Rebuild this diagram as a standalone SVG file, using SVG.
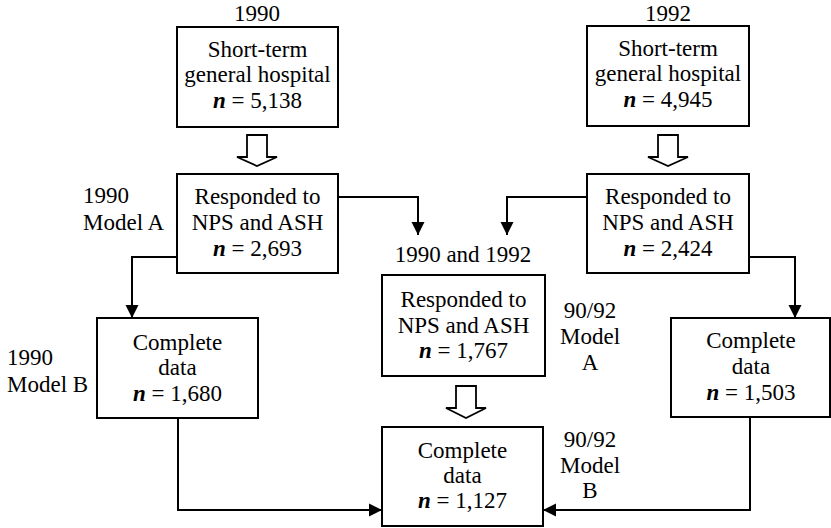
<svg xmlns="http://www.w3.org/2000/svg" width="831" height="528" viewBox="0 0 831 528">
<style>
text{font-family:"Liberation Serif","Times New Roman",serif;font-size:23px;fill:#000;text-anchor:middle}
.l{text-anchor:start}
.n{font-style:italic;font-weight:bold}
.box{fill:#fff;stroke:#000;stroke-width:2}
.c{fill:none;stroke:#000;stroke-width:2}
.h{fill:#fff;stroke:#000;stroke-width:1.8;stroke-linejoin:miter}
</style>
<defs>
<marker id="a" markerUnits="userSpaceOnUse" markerWidth="14" markerHeight="14" refX="13" refY="6.5" orient="auto" viewBox="0 0 14 13">
<path d="M0,0 L13,6.5 L0,13 z" fill="#000"/>
</marker>
</defs>
<g id="connectors">
<polyline class="c" points="338,197 418,197 418,235" marker-end="url(#a)"/>
<polyline class="c" points="587,197 507,197 507,235" marker-end="url(#a)"/>
<polyline class="c" points="177,257 132,257 132,318" marker-end="url(#a)"/>
<polyline class="c" points="749,257 795,257 795,318" marker-end="url(#a)"/>
<polyline class="c" points="178,418 178,510 382,510" marker-end="url(#a)"/>
<polyline class="c" points="750,417 750,510 543,510" marker-end="url(#a)"/>
<polygon class="h" points="247,135 267,135 267,157 277,157 257,166 237,157 247,157"/>
<polygon class="h" points="658,135 678,135 678,157 688,157 668,166 648,157 658,157"/>
<polygon class="h" points="456,386 476,386 476,408 486,408 466,418 446,408 456,408"/>
</g>
<g id="label-1990"><text x="257" y="21">1990</text></g>
<g id="label-1992"><text x="668" y="21">1992</text></g>
<g id="box-1990-hospital">
<rect class="box" x="177" y="27" width="161" height="100"/>
<text x="257.5" y="57">Short-term</text>
<text x="257.5" y="82">general hospital</text>
<text x="257.5" y="108"><tspan class="n">n</tspan> = 5,138</text>
</g>
<g id="box-1992-hospital">
<rect class="box" x="587" y="26" width="162" height="100"/>
<text x="668" y="56">Short-term</text>
<text x="668" y="81">general hospital</text>
<text x="668" y="107"><tspan class="n">n</tspan> = 4,945</text>
</g>
<g id="box-1990-responded">
<rect class="box" x="177" y="174" width="161" height="99"/>
<text x="257.5" y="204">Responded to</text>
<text x="257.5" y="230">NPS and ASH</text>
<text x="257.5" y="256"><tspan class="n">n</tspan> = 2,693</text>
</g>
<g id="label-1990-model-a">
<text class="l" x="83" y="203">1990</text>
<text class="l" x="83" y="230">Model A</text>
</g>
<g id="box-1992-responded">
<rect class="box" x="587" y="174" width="162" height="99"/>
<text x="668" y="204">Responded to</text>
<text x="668" y="230">NPS and ASH</text>
<text x="668" y="256"><tspan class="n">n</tspan> = 2,424</text>
</g>
<g id="label-1990-1992"><text x="463" y="262">1990 and 1992</text></g>
<g id="box-9092-responded">
<rect class="box" x="382" y="275" width="163" height="101"/>
<text x="463.5" y="307">Responded to</text>
<text x="463.5" y="333">NPS and ASH</text>
<text x="463.5" y="358"><tspan class="n">n</tspan> = 1,767</text>
</g>
<g id="label-9092-model-a">
<text x="590" y="318">90/92</text>
<text x="590" y="344">Model</text>
<text x="590" y="370">A</text>
</g>
<g id="box-1990-complete">
<rect class="box" x="97" y="318" width="161" height="100"/>
<text x="177.5" y="350">Complete</text>
<text x="177.5" y="375">data</text>
<text x="177.5" y="401"><tspan class="n">n</tspan> = 1,680</text>
</g>
<g id="label-1990-model-b">
<text class="l" x="7" y="365">1990</text>
<text class="l" x="7" y="392">Model B</text>
</g>
<g id="box-1992-complete">
<rect class="box" x="671" y="318" width="159" height="99"/>
<text x="751" y="348">Complete</text>
<text x="751" y="374">data</text>
<text x="751" y="400"><tspan class="n">n</tspan> = 1,503</text>
</g>
<g id="box-9092-complete">
<rect class="box" x="382" y="427" width="161" height="99"/>
<text x="462.5" y="458">Complete</text>
<text x="462.5" y="483">data</text>
<text x="462.5" y="508"><tspan class="n">n</tspan> = 1,127</text>
</g>
<g id="label-9092-model-b">
<text x="590" y="447">90/92</text>
<text x="590" y="473">Model</text>
<text x="590" y="498">B</text>
</g>
</svg>
